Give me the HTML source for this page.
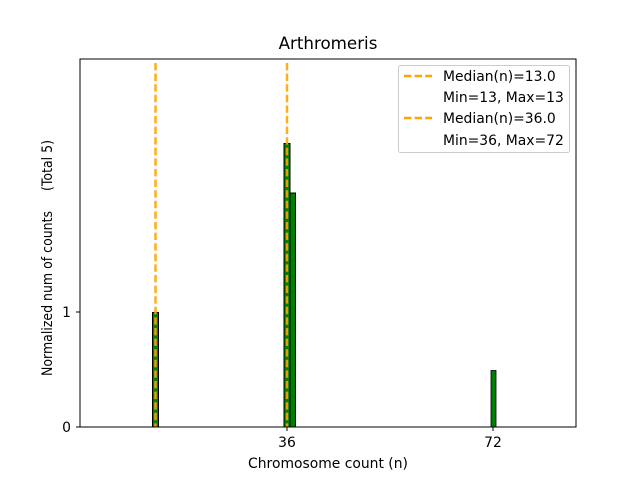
<!DOCTYPE html>
<html><head><meta charset="utf-8"><style>body{margin:0;background:#fff}svg{display:block}</style></head><body>
<svg width="640" height="480" xmlns="http://www.w3.org/2000/svg" font-family="DejaVu Sans, sans-serif">
<rect width="640" height="480" fill="#fff"/>
<line x1="80" y1="427" x2="175" y2="427" stroke="#bbb" stroke-width="1"/>
<rect x="152.5" y="312.5" width="6" height="114.5" fill="#008000" stroke="#000" stroke-width="1"/>
<rect x="284" y="143.5" width="6" height="283.5" fill="#008000" stroke="#000" stroke-width="1"/>
<rect x="290" y="193" width="5.5" height="234" fill="#008000" stroke="#000" stroke-width="1"/>
<rect x="491" y="370.5" width="5" height="56.5" fill="#008000" stroke="#000" stroke-width="0.8"/>
<line x1="155.5" y1="63" x2="155.5" y2="427" stroke="#ffa500" stroke-width="2.5" stroke-dasharray="7.4,3.2" opacity="0.9"/>
<line x1="287" y1="63" x2="287" y2="427" stroke="#ffa500" stroke-width="2.5" stroke-dasharray="7.4,3.2" opacity="0.9"/>
<rect x="80" y="59" width="496" height="368" fill="none" stroke="#000" stroke-width="1"/>
<g stroke="#000" stroke-width="1">
<line x1="287" y1="427" x2="287" y2="431"/><line x1="493" y1="427" x2="493" y2="431"/>
<line x1="76" y1="427" x2="80" y2="427"/><line x1="76" y1="312" x2="80" y2="312"/>
</g>
<g font-size="13.9" fill="#000">
<text x="287" y="447" text-anchor="middle">36</text>
<text x="493" y="447" text-anchor="middle">72</text>
<text x="71" y="432" text-anchor="end">0</text>
<text x="71" y="317" text-anchor="end">1</text>
<text x="328" y="468" text-anchor="middle">Chromosome count (n)</text>
<text transform="translate(52,258) rotate(-90)" text-anchor="middle" xml:space="preserve" textLength="236" lengthAdjust="spacingAndGlyphs">Normalized num of counts     (Total 5)</text>
</g>
<text x="328" y="49" font-size="16.7" text-anchor="middle">Arthromeris</text>
<rect x="398.5" y="65.5" width="171" height="87" rx="2" fill="#fff" fill-opacity="0.8" stroke="#ccc"/>
<line x1="404" y1="76" x2="432" y2="76" stroke="#ffa500" stroke-width="2.5" stroke-dasharray="7.4,3.2"/>
<line x1="404" y1="118" x2="432" y2="118" stroke="#ffa500" stroke-width="2.5" stroke-dasharray="7.4,3.2"/>
<g font-size="13.9" fill="#000">
<text x="443" y="81">Median(n)=13.0</text>
<text x="443" y="102">Min=13, Max=13</text>
<text x="443" y="123">Median(n)=36.0</text>
<text x="443" y="145">Min=36, Max=72</text>
</g>
</svg>
</body></html>
